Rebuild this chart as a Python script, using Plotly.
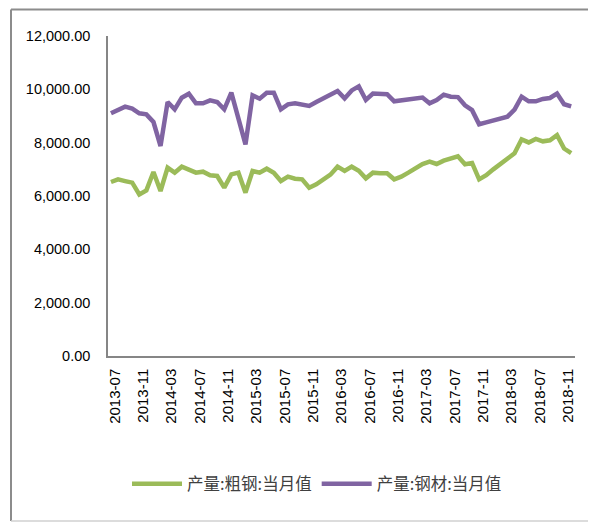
import pandas as pd
import plotly.graph_objects as go

# Monthly categories 2013-07 .. 2018-12
months = [p.strftime("%Y-%m") for p in pd.period_range("2013-07", "2018-12", freq="M")]

# 产量:粗钢:当月值 (crude steel output)
crude_steel = [
    6525, 6625, 6560, 6500, 6062, 6212, 6900, 6187, 7062, 6875,
    7100, 6975, 6875, 6912, 6775, 6750, 6312, 6812, 6875, 6125,
    6937, 6875, 7025, 6875, 6562, 6725, 6650, 6625, 6312, 6437,
    6625, 6800, 7100, 6940, 7100, 6950, 6662, 6875, 6850, 6850,
    6625, 6725, 6875, 7037, 7200, 7287, 7200, 7325, 7412, 7490,
    7190, 7240, 6625, 6780, 7000, 7200, 7380, 7600, 8125, 8010,
    8140, 8050, 8090, 8280, 7780, 7610,
]

# 产量:钢材:当月值 (steel products output)
steel_products = [
    9100, 9212, 9350, 9275, 9100, 9062, 8775, 7875, 9525, 9250,
    9687, 9837, 9475, 9475, 9587, 9525, 9250, 9875, 8850, 7937,
    9775, 9650, 9875, 9875, 9250, 9437, 9475, 9437, 9375, 9525,
    9650, 9775, 9940, 9660, 9960, 10110, 9600, 9840, 9850, 9820,
    9550, 9580, 9620, 9650, 9690, 9475, 9600, 9800, 9725, 9710,
    9400, 9220, 8690, 8760, 8830, 8900, 8975, 9240, 9725, 9550,
    9550, 9640, 9675, 9840, 9440, 9360,
]

tick_labels = months[::4]

series_names = ["产量:粗钢:当月值", "产量:钢材:当月值"]
colors = ["#9BBB59", "#8064A2"]

fig = go.Figure()
for name, vals, col in zip(series_names, [crude_steel, steel_products], colors):
    fig.add_trace(go.Scatter(
        x=months, y=vals, mode="lines", name=name,
        line=dict(color=col, width=4.5, shape="linear"),
    ))

OFF = 8  # page body margin
W, H = 596 - OFF, 523 - OFF
# plot area in screen pixels
L, R, T, B = 108, 575, 36, 356
pw, ph = R - L, B - T

def px_x(x):
    return (x - L) / pw

def px_y(y):
    return (B - y) / ph

fig.update_layout(
    width=W, height=H,
    margin=dict(l=L - OFF, r=W - (R - OFF), t=T - OFF, b=H - (B - OFF), pad=0),
    paper_bgcolor="white", plot_bgcolor="white",
    showlegend=True,
    legend=dict(
        orientation="h", x=px_x(317), xanchor="center",
        y=px_y(484), yanchor="middle",
        font=dict(family="Noto Sans CJK SC", size=16.5, color="#404040"),
        itemwidth=50, tracegroupgap=0,
        bgcolor="rgba(0,0,0,0)",
    ),
    font=dict(family="Liberation Sans", color="#000000"),
)

fig.update_xaxes(
    type="category",
    range=[-0.42, 65.54],
    tickmode="array", tickvals=tick_labels, ticktext=tick_labels,
    tickangle=-90,
    tickfont=dict(family="Liberation Sans", size=15, color="#000000"),
    showline=True, linecolor="#868686", linewidth=1.5,
    showgrid=False, zeroline=False, ticks="", ticklabelstandoff=5,
    ticklabelshift=4,
)

fig.update_yaxes(
    range=[0, 12000], dtick=2000, tickformat=",.2f",
    tickfont=dict(family="Liberation Sans", size=14.5, color="#000000"),
    showline=True, linecolor="#868686", linewidth=1.5,
    showgrid=False, zeroline=False, ticks="", ticklabelstandoff=13,
)

# outer chart border
x_left, x_right = px_x(11), px_x(605)
y_top, y_bot = px_y(9.5), px_y(521)
fig.add_shape(type="line", xref="paper", yref="paper",
              x0=x_left, x1=x_left, y0=y_bot, y1=y_top,
              line=dict(color="#8c8c8c", width=2))
fig.add_shape(type="line", xref="paper", yref="paper",
              x0=x_left, x1=x_right, y0=y_top, y1=y_top,
              line=dict(color="#8c8c8c", width=2))
fig.add_shape(type="line", xref="paper", yref="paper",
              x0=x_left, x1=x_right, y0=y_bot, y1=y_bot,
              line=dict(color="#d0d0d0", width=1.5))

fig.write_html("out.html")
